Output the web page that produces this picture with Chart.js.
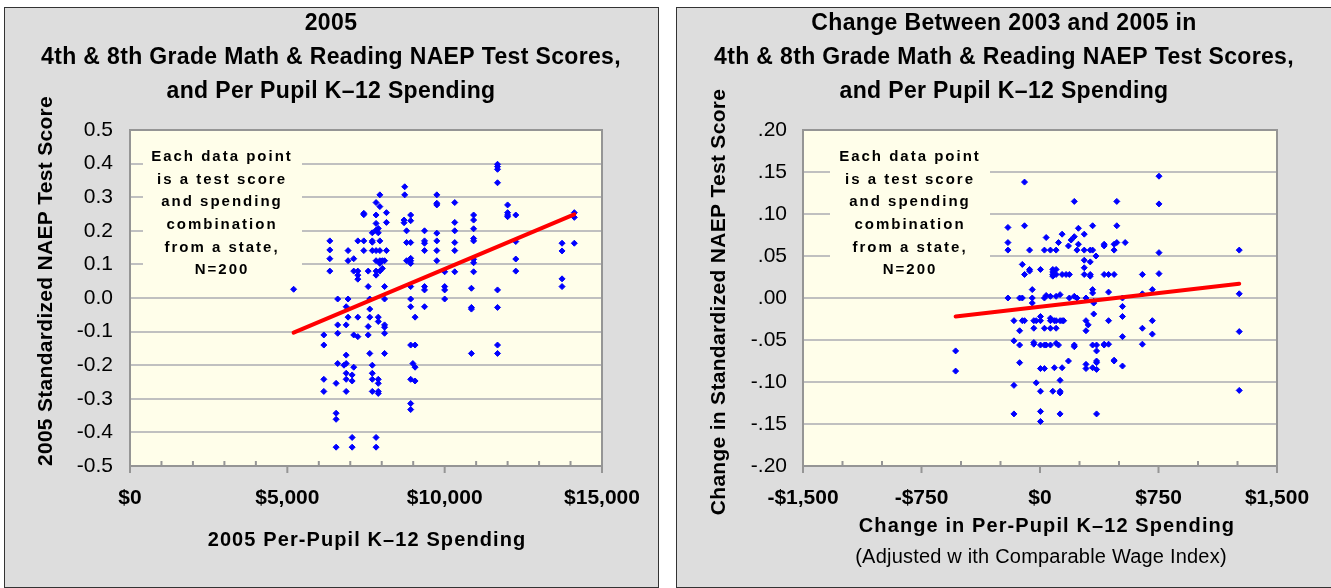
<!DOCTYPE html>
<html>
<head>
<meta charset="utf-8">
<script src="https://cdn.jsdelivr.net/npm/chart.js@4.4.1/dist/chart.umd.min.js"></script>
<style>
  body { margin: 0; width: 1331px; height: 588px; overflow: hidden; position: relative; background: #fff; }
  .panel { position: absolute; top: 7px; height: 581px; background: #dddddd; border: 1.5px solid #333; box-sizing: border-box; }
  #panelLeft { left: 4px; width: 655px; }
  #panelRight { left: 676px; width: 700px; }
  canvas { position: absolute; top: 0; }
  #chartLeft { left: 0; }
  #chartRight { left: 665px; }
</style>
</head>
<body>
<div class="panel" id="panelLeft"></div>
<div class="panel" id="panelRight"></div>
<canvas id="chartLeft" width="665" height="588"></canvas>
<canvas id="chartRight" width="666" height="588"></canvas>
<script>
// 2005 levels: spending columns and the scores found at each one
var spend2005 = [5200, 6160, 6350, 6550, 6600, 6800, 6870, 6930, 7060, 7110, 7240, 7430, 7570, 7620, 7700,
    7820, 7890, 7940, 8020, 8090, 8150, 8710, 8730, 8790, 8920, 8990, 9060, 9360, 9750, 10000, 10320,
    10850, 10920, 11680, 12000, 12260, 13730, 14120];
var score2005 = [
    [0.026],
    [-0.11, -0.14, -0.242, -0.278],
    [0.17, 0.143, 0.117, 0.08],
    [-0.254, -0.343, -0.361, -0.444],
    [-0.003, -0.08, -0.105, -0.195],
    [-0.2],
    [-0.026, -0.08, -0.17, -0.195, -0.224, -0.242, -0.278],
    [0.141, 0.111, -0.003, -0.057],
    [-0.229, -0.247, -0.415, -0.444],
    [0.117, 0.08, -0.11, -0.206],
    [0.17, 0.08, 0.068, 0.056, -0.057, -0.115],
    [0.252, 0.248, 0.17, 0.141],
    [0.08, 0.034, -0.085, -0.11],
    [-0.003, -0.033, -0.057, -0.165],
    [0.194, 0.17, 0.166, 0.141, -0.2, -0.224, -0.242, -0.278],
    [0.284, 0.247, 0.222, 0.202, 0.141, 0.111, 0.08, 0.068, -0.415, -0.444],
    [0.207, 0.194, -0.057, -0.07, -0.242, -0.254, -0.278, -0.284],
    [0.307, 0.272, 0.17, 0.141, 0.111, 0.103, 0.08],
    [0.111, 0.088],
    [0.111, 0.034, -0.003, -0.08, -0.087, -0.105, -0.165],
    [0.254, 0.225, 0.141],
    [0.232, 0.224],
    [0.331, 0.307],
    [0.2, 0.165, 0.111],
    [0.247, 0.23, 0.165, 0.118, 0.111, 0.103, 0.034, -0.003, -0.026, -0.14, -0.242, -0.314, -0.332],
    [-0.195],
    [-0.057, -0.14, -0.206, -0.247],
    [0.2, 0.17, 0.163, 0.141, 0.034, 0.024, -0.026],
    [0.307, 0.282, 0.277, 0.193, 0.17, 0.141, 0.111],
    [0.078, 0.034, 0.024, -0.003],
    [0.284, 0.225, 0.2, 0.165, 0.141, 0.078],
    [0.029, -0.028, -0.033, -0.165],
    [0.247, 0.232, 0.206, 0.177, 0.17, 0.115, 0.105, 0.078],
    [0.398, 0.391, 0.383, 0.343, 0.024, -0.028, -0.14, -0.165],
    [0.277, 0.254, 0.247, 0.242],
    [0.247, 0.168, 0.116, 0.08],
    [0.163, 0.14, 0.057, 0.034],
    [0.254, 0.24, 0.163]
];
var trend2005X = [5200, 14120];
var trend2005Y = [-0.103, 0.249];

// 2003 -> 2005 changes
var spendChange = [-534, -203, -165, -129, -112, -98, -66, -49, -39, -24, 3, 28, 39, 66, 81, 91, 102, 117,
    127, 140, 150, 165, 180, 186, 197, 217, 234, 243, 280, 291, 305, 318, 333, 340, 354, 358, 406, 434,
    469, 486, 522, 539, 648, 711, 753, 1261];
var scoreChange = [
    [-0.063, -0.087],
    [0.084, 0.066, 0.057, 0],
    [-0.027, -0.051, -0.104, -0.138],
    [0, -0.039, -0.056, -0.077],
    [0.04, 0, -0.027],
    [0.138, 0.086, 0.028, -0.027],
    [0.057, 0.034, 0.032],
    [0.01, 0, -0.006],
    [-0.027, -0.036, -0.053, -0.055],
    [-0.027, -0.101],
    [0.034, -0.022, -0.027, -0.056, -0.084, -0.111, -0.135, -0.147],
    [0.057, 0, -0.036, -0.056, -0.084],
    [0.072, 0.003, -0.056],
    [0.057, 0.002, -0.024, -0.027, -0.036, -0.056],
    [0.034, 0.031, 0.028, 0.026, -0.111],
    [-0.027, -0.083],
    [0.057, 0.034, 0.028, 0.002, -0.027, -0.036, -0.054],
    [0.066, -0.056],
    [0.004, -0.027, -0.098, -0.111, -0.113, -0.138],
    [0.076, 0.028, -0.027, -0.083],
    [-0.027],
    [0.028],
    [0.062, -0.075],
    [0.028, 0],
    [0.069],
    [0.115, 0.073, 0.002, -0.056, -0.058],
    [0.057, 0],
    [0.083, 0.064],
    [0.076, 0.057, 0.045, 0.036, 0.028],
    [0, -0.027, -0.039, -0.079, -0.084],
    [-0.032],
    [0.057, 0.043, 0.028, 0.026],
    [0.086, 0.057, 0.01, 0.006, -0.056, -0.083],
    [-0.004, -0.006, -0.019],
    [0.05],
    [-0.056, -0.063, -0.075, -0.077, -0.085, -0.138],
    [0.064, 0.062, 0.028, -0.055, -0.056],
    [0.028, 0.007, -0.027, -0.055],
    [0.064, 0.057, 0.028, -0.074, -0.075],
    [0.115, 0.086, 0.066],
    [0, -0.01, -0.022, -0.046, -0.081],
    [0.066],
    [0.028, 0.005, -0.036, -0.055],
    [0.01, -0.027, -0.043],
    [0.145, 0.112, 0.054, 0.029],
    [0.057, 0.005, -0.04, -0.11]
];
var trendChangeX = [-534, 1261];
var trendChangeY = [-0.022, 0.017];

var titleLeft = ['2005', '4th & 8th Grade Math & Reading NAEP Test Scores,', 'and Per Pupil K\u201312 Spending'];
var titleRight = ['Change Between 2003 and 2005 in', '4th & 8th Grade Math & Reading NAEP Test Scores,', 'and Per Pupil K\u201312 Spending'];
var noteLines = ['Each data point', 'is a test score', 'and spending', 'combination', 'from a state,', 'N=200'];

var FONT = '"Liberation Sans", Arial, sans-serif';
var PLOT_BG = '#fffeea';

function toPoints(xs, ys) {
    var pts = [];
    xs.forEach(function (x, i) {
        ys[i].forEach(function (y) { pts.push({ x: x, y: y }); });
    });
    return pts;
}
function pairs(xs, ys) {
    return xs.map(function (x, i) { return { x: x, y: ys[i] }; });
}
function money(v) {
    var s = String(Math.abs(v)).replace(/\B(?=(\d{3})+(?!\d))/g, ',');
    return (v < 0 ? '-$' : '$') + s;
}

function textAt(ctx, txt, x, y, font, spacing, rot) {
    ctx.save();
    ctx.translate(x, y);
    if (rot) ctx.rotate(rot);
    ctx.font = font;
    ctx.letterSpacing = spacing || '0px';
    ctx.fillStyle = '#000';
    ctx.textAlign = 'center';
    ctx.textBaseline = 'middle';
    ctx.fillText(txt, 0, 0);
    ctx.restore();
}

function panelPlugin(cfg) {
    return {
        id: 'panelDeco',
        beforeDraw: function (chart) {
            var a = chart.chartArea, ctx = chart.ctx;
            ctx.save();
            ctx.fillStyle = PLOT_BG;
            ctx.fillRect(a.left, a.top, a.right - a.left, a.bottom - a.top);
            ctx.restore();
        },
        beforeDatasetsDraw: function (chart) {
            // the note sits on a patch that hides the grid
            var ctx = chart.ctx, n = cfg.note;
            ctx.save();
            ctx.fillStyle = PLOT_BG;
            ctx.fillRect(n.x, n.y, n.w, n.h);
            ctx.restore();
            noteLines.forEach(function (t, i) {
                textAt(ctx, t, n.cx, 157 + i * 22.6, 'bold 15px ' + FONT, '2px');
            });
        },
        afterDatasetsDraw: function (chart) {
            var a = chart.chartArea, ctx = chart.ctx, xs = chart.scales.x;
            ctx.save();
            ctx.strokeStyle = '#959595';
            ctx.lineWidth = 2;
            ctx.strokeRect(a.left, a.top, a.right - a.left, a.bottom - a.top);
            xs.ticks.forEach(function (t) {
                var px = xs.getPixelForValue(t.value);
                ctx.beginPath();
                ctx.moveTo(px, a.bottom);
                ctx.lineTo(px, t.label ? a.bottom + 7 : a.bottom - 5);
                ctx.stroke();
            });
            ctx.restore();
        },
        afterDraw: function (chart) {
            var ctx = chart.ctx;
            cfg.title.forEach(function (t, i) {
                textAt(ctx, t, cfg.titleX, 24 + i * 34, 'bold 23px ' + FONT, '0.35px');
            });
            textAt(ctx, cfg.yTitle, cfg.yTitleX, cfg.yTitleY, 'bold 21px ' + FONT, '0.3px', -Math.PI / 2);
            textAt(ctx, cfg.xTitle, cfg.xTitleX, cfg.xTitleY, 'bold 20px ' + FONT, '1.1px');
            if (cfg.xSub) textAt(ctx, cfg.xSub, cfg.xTitleX - 6, 557, '20px ' + FONT, '0.2px');
        }
    };
}

function makeChart(id, cfg) {
    return new Chart(document.getElementById(id), {
        type: 'scatter',
        data: {
            datasets: [{
                type: 'line',
                data: cfg.trend,
                borderColor: '#ff0000',
                borderWidth: 4,
                borderCapStyle: 'round',
                pointRadius: 0,
                order: 0
            }, {
                data: cfg.points,
                pointStyle: 'rectRot',
                pointRadius: 3,
                backgroundColor: '#0000ff',
                borderColor: '#0000ff',
                borderWidth: 1,
                order: 1
            }]
        },
        options: {
            responsive: false,
            animation: false,
            devicePixelRatio: 1,
            events: [],
            layout: { padding: { left: 0, top: 130, right: cfg.padRight, bottom: 0 } },
            plugins: { legend: { display: false }, tooltip: { enabled: false } },
            scales: {
                x: {
                    type: 'linear',
                    min: cfg.xMin, max: cfg.xMax,
                    grid: { display: false },
                    border: { display: false },
                    ticks: {
                        stepSize: cfg.xStep, autoSkip: false, maxRotation: 0, padding: 12,
                        color: '#000', font: { family: FONT, size: 21, weight: 'bold' },
                        callback: cfg.xLabel
                    },
                    afterFit: function (s) { s.height = 122; }
                },
                y: {
                    type: 'linear',
                    min: cfg.yMin, max: cfg.yMax,
                    grid: { color: '#c0c0c0', lineWidth: 2, drawTicks: false },
                    border: { display: false },
                    ticks: {
                        stepSize: cfg.yStep, padding: cfg.yPad,
                        color: '#000', font: { family: FONT, size: 21 },
                        callback: cfg.yLabel
                    },
                    afterFit: function (s) { s.width = cfg.yWidth; }
                }
            }
        },
        plugins: [panelPlugin(cfg)]
    });
}

makeChart('chartLeft', {
    points: toPoints(spend2005, score2005),
    trend: pairs(trend2005X, trend2005Y),
    xMin: 0, xMax: 15000, xStep: 1000,
    xLabel: function (v) { return v % 5000 === 0 ? money(v) : ''; },
    yMin: -0.5, yMax: 0.5, yStep: 0.1,
    yLabel: function (v) { return (Math.abs(v) < 1e-9 ? 0 : v).toFixed(1); },
    yWidth: 130, yPad: 17, padRight: 63,
    title: titleLeft, titleX: 331,
    yTitle: '2005 Standardized NAEP Test Score', yTitleX: 46, yTitleY: 281,
    xTitle: '2005 Per-Pupil K\u201312 Spending', xTitleX: 367, xTitleY: 540,
    note: { x: 143, y: 140, w: 159, h: 142, cx: 222 }
});

makeChart('chartRight', {
    points: toPoints(spendChange, scoreChange),
    trend: pairs(trendChangeX, trendChangeY),
    xMin: -1500, xMax: 1500, xStep: 250,
    xLabel: function (v) { return v % 750 === 0 ? money(v) : ''; },
    yMin: -0.2, yMax: 0.2, yStep: 0.05,
    yLabel: function (v) {
        var s = Math.abs(v).toFixed(2).replace(/^0/, '');
        return (v < -1e-9 ? '-' : '') + s;
    },
    yWidth: 138, yPad: 16, padRight: 54,
    title: titleRight, titleX: 339,
    yTitle: 'Change in Standardized NAEP Test Score', yTitleX: 54, yTitleY: 302,
    xTitle: 'Change in Per-Pupil K\u201312 Spending', xTitleX: 382, xTitleY: 526,
    xSub: '(Adjusted w ith Comparable Wage Index)',
    note: { x: 165, y: 140, w: 160, h: 142, cx: 245 }
});
</script>
</body>
</html>
